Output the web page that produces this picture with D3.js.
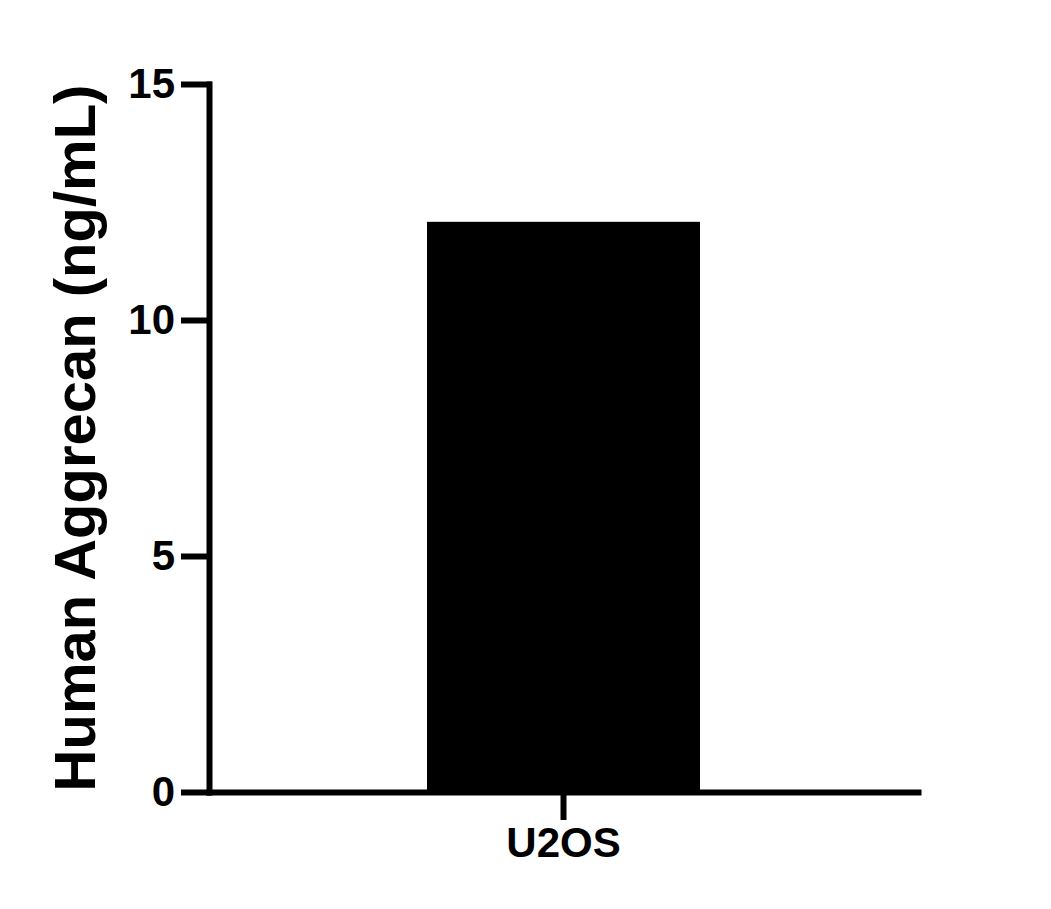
<!DOCTYPE html>
<html>
<head>
<meta charset="utf-8">
<script src="https://cdn.jsdelivr.net/npm/d3@7"></script>
<style>
  body { margin: 0; background: #fff; }
  text { font-family: "Liberation Sans", Arial, sans-serif; font-weight: bold; }
</style>
</head>
<body>
<div id="chart"></div>
<script>
// data
const categories = ["U2OS"];
const values = [12.08];
const yTicks = [0, 5, 10, 15];
const yLabel = "Human Aggrecan (ng/mL)";

const margin = {top: 84, right: 133, bottom: 117, left: 209},
  width = 1051 - margin.left - margin.right,
  height = 909 - margin.top - margin.bottom;

const svg = d3.select("#chart")
  .append("svg")
    .attr("width", width + margin.left + margin.right)
    .attr("height", height + margin.top + margin.bottom)
  .append("g")
    .attr("transform", `translate(${margin.left}, ${margin.top})`);

const x = d3.scaleBand()
  .domain(categories)
  .range([0, width])
  .padding(0.444);

const y = d3.scaleLinear()
  .domain([0, 15])
  .range([height, 0]);

// bars
svg.selectAll("rect.bar")
  .data(categories)
  .join("rect")
    .attr("class", "bar")
    .attr("x", d => x(d))
    .attr("width", x.bandwidth())
    .attr("y", (d, i) => y(values[i]))
    .attr("height", (d, i) => y(0) - y(values[i]))
    .style("fill", "#000");

// axes
const yAxis = svg.append("g")
  .call(d3.axisLeft(y).tickValues(yTicks).tickSize(25).tickSizeOuter(0).tickPadding(9));

const xAxis = svg.append("g")
  .attr("transform", `translate(0, ${height})`)
  .call(d3.axisBottom(x).tickSize(25).tickSizeOuter(0).tickPadding(10));

[yAxis, xAxis].forEach(function(a) {
  a.selectAll("path, line")
    .style("stroke", "#000")
    .style("stroke-width", 6)
    .style("stroke-linecap", "square");
  a.selectAll("text")
    .style("font-size", "42px")
    .style("fill", "#000");
});

// y axis title
svg.append("text")
  .attr("transform", `translate(${95 - margin.left}, ${height / 2}) rotate(-90)`)
  .attr("text-anchor", "middle")
  .style("font-size", "58px")
  .style("fill", "#000")
  .text(yLabel);
</script>
</body>
</html>
